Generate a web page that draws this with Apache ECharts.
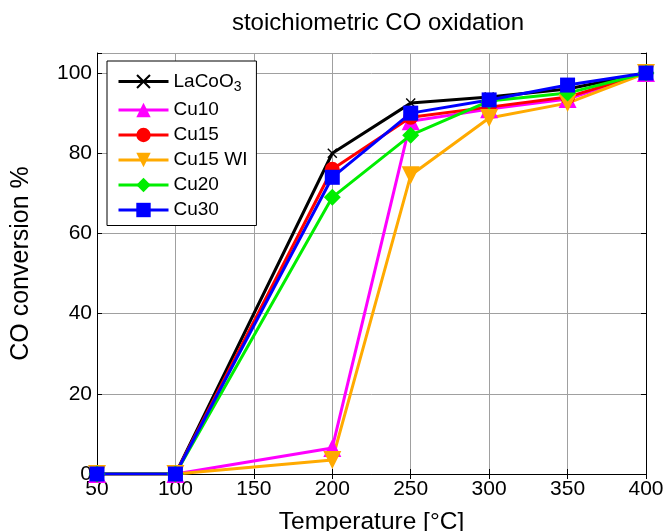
<!DOCTYPE html>
<html>
<head>
<meta charset="utf-8">
<script src="https://cdn.jsdelivr.net/npm/echarts@6/dist/echarts.min.js"></script>
<style>
  html, body { margin: 0; padding: 0; background: #fff; }
  #chart { width: 667px; height: 531px; }
</style>
</head>
<body>
<div id="chart"></div>
<script>
// Temperature steps (°C) and CO conversion (%) per catalyst
const temperatures = [50, 100, 200, 250, 300, 350, 400];
const xTicks = [50, 100, 150, 200, 250, 300, 350, 400];
const yTicks = [0, 20, 40, 60, 80, 100];

const laCoO3 = [0, 0, 80, 92.5, 94, 96, 100];
const cu10   = [0, 0, 6.5, 88, 91, 93.5, 100];
const cu15   = [0, 0, 76, 89, 91.5, 94, 100];
const cu15WI = [0, 0, 3.5, 74.5, 88.8, 92.5, 100];
const cu20   = [0, 0, 69, 84.5, 93, 95, 100];
const cu30   = [0, 0, 74, 90, 93.3, 97, 100];

const FONT = 'Liberation Sans, Arial, Helvetica, sans-serif';
const crossPath = 'path://M0,1L1,0L5,4L9,0L10,1L6,5L10,9L9,10L5,6L1,10L0,9L4,5Z';

function pairs(vals) {
  return temperatures.map((t, i) => [t, vals[i]]);
}

function makeSeries(name, vals, color, symbol, size) {
  return {
    name: name,
    type: 'line',
    data: pairs(vals),
    symbol: symbol,
    symbolSize: size,
    showAllSymbol: true,
    lineStyle: { color: color, width: 3 },
    itemStyle: { color: color },
    emphasis: { disabled: true },
    animation: false
  };
}

const chart = echarts.init(document.getElementById('chart'));

const commonAxis = {
  axisLine: { show: true, lineStyle: { color: '#000', width: 1 } },
  axisTick: { show: true, inside: true, length: 5, lineStyle: { color: '#000' } }
};

chart.setOption({
  backgroundColor: '#fff',
  animation: false,
  title: {
    text: 'stoichiometric CO oxidation',
    left: 373,
    top: 6,
    textAlign: 'center',
    textStyle: { fontFamily: FONT, fontSize: 24, fontWeight: 'normal', color: '#000' }
  },
  grid: { left: 97, right: 21, top: 53, bottom: 57, containLabel: false, outerBoundsMode: 'none' },
  legend: {
    left: 107,
    top: 61,
    orient: 'vertical',
    itemWidth: 50,
    itemHeight: 18,
    itemGap: 6,
    padding: [11, 9, 6, 10],
    borderColor: '#000',
    borderWidth: 1,
    backgroundColor: '#fff',
    selectedMode: false,
    lineStyle: { width: 3 },
    textStyle: {
      fontFamily: FONT, fontSize: 19, color: '#000',
      rich: {
        sub: { fontFamily: FONT, fontSize: 14, verticalAlign: 'bottom', padding: [12, 0, 0, 0] }
      }
    },
    formatter: function (name) {
      return name === 'LaCoO3' ? 'LaCoO{sub|3}' : name;
    }
  },
  xAxis: [{
    type: 'value',
    min: 50,
    max: 400,
    interval: 50,
    ...commonAxis,
    splitLine: { show: true, lineStyle: { color: '#a0a0a0', width: 1 } },
    axisLabel: { fontFamily: FONT, fontSize: 21, color: '#000', margin: 5,
      formatter: v => xTicks.includes(v) ? String(v) : '' },
    name: 'Temperature [°C]',
    nameLocation: 'middle',
    nameGap: 36,
    nameTextStyle: { fontFamily: FONT, fontSize: 24.5, color: '#000' }
  }, {
    type: 'value', position: 'top', min: 50, max: 400, interval: 50,
    ...commonAxis, axisLabel: { show: false }, splitLine: { show: false }
  }],
  yAxis: [{
    type: 'value',
    min: 0,
    max: 105,
    interval: 20,
    ...commonAxis,
    splitLine: { show: true, lineStyle: { color: '#a0a0a0', width: 1 } },
    axisLabel: { fontFamily: FONT, fontSize: 21, color: '#000', margin: 5,
      formatter: v => yTicks.includes(v) ? String(v) : '' },
    name: 'CO conversion %',
    nameLocation: 'middle',
    nameGap: 63,
    nameTextStyle: { fontFamily: FONT, fontSize: 25, color: '#000' }
  }, {
    type: 'value', position: 'right', min: 0, max: 105, interval: 20,
    ...commonAxis, axisLabel: { show: false }, splitLine: { show: false }
  }],
  series: [
    makeSeries('LaCoO3', laCoO3, '#000000', crossPath, 10),
    makeSeries('Cu10', cu10, '#ff00ff', 'triangle', 18),
    makeSeries('Cu15', cu15, '#ff0000', 'circle', 15),
    makeSeries('Cu15 WI', cu15WI, '#ffaa00', 'path://M0,0L10,0L5,9Z', 18),
    makeSeries('Cu20', cu20, '#00ee00', 'diamond', 17),
    makeSeries('Cu30', cu30, '#0000ff', 'rect', 15)
  ]
});
</script>
</body>
</html>
